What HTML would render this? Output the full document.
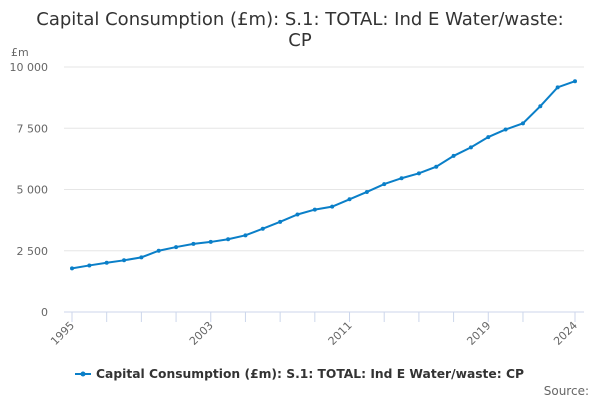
<!DOCTYPE html>
<html><head><meta charset="utf-8"><style>
body{margin:0;background:#fff;font-family:"Liberation Sans","DejaVu Sans",sans-serif;}
svg text{font-family:"DejaVu Sans","Liberation Sans",sans-serif;}
</style></head><body>
<svg id="chart" width="600" height="400">
<text x="300" y="25" text-anchor="middle" font-size="18" fill="#333">Capital Consumption (£m): S.1: TOTAL: Ind E Water/waste:</text>
<text x="300" y="46" text-anchor="middle" font-size="18" fill="#333">CP</text>
<text x="11" y="56" font-size="11" fill="#666">£m</text>
<g id="grid"></g><g id="xax"></g><g id="series"></g>
<g>
<line x1="75" y1="374" x2="91" y2="374" stroke="#0a7fc8" stroke-width="2"/>
<circle cx="83" cy="374" r="2.5" fill="#0a7fc8"/>
<text x="96" y="378" font-size="12.5" font-weight="bold" fill="#333" textLength="428" lengthAdjust="spacingAndGlyphs">Capital Consumption (£m): S.1: TOTAL: Ind E Water/waste: CP</text>
</g>
<text x="589" y="395" text-anchor="end" font-size="12" fill="#666">Source:</text>
</svg>
<script>
const years=[1995,1996,1997,1998,1999,2000,2001,2002,2003,2004,2005,2006,2007,2008,2009,2010,2011,2012,2013,2014,2015,2016,2017,2018,2019,2020,2021,2022,2023,2024];
const values=[1780,1900,2010,2110,2230,2500,2650,2780,2860,2970,3130,3400,3680,3980,4180,4300,4600,4900,5220,5460,5660,5930,6370,6720,7140,7450,7700,8400,9170,9420];
const yTicks=[0,2500,5000,7500,10000];
const yTickLabels=["0","2 500","5 000","7 500","10 000"];
const xLabels=[1995,2003,2011,2019,2024];
const NS="http://www.w3.org/2000/svg";
const X=y=>72+(y-1995)*(575-72)/29;
const Y=v=>312-v*(312-67)/10000;
function mk(t,a,p){const e=document.createElementNS(NS,t);for(const k in a)e.setAttribute(k,a[k]);p.appendChild(e);return e;}
const g=document.getElementById('grid'),xa=document.getElementById('xax'),s=document.getElementById('series');
yTicks.forEach((v,i)=>{
 const l=mk('line',{x1:64,x2:584,y1:Y(v),y2:Y(v),stroke:v===0?'#ccd6eb':'#e6e6e6','stroke-width':1},g);
 
 
 const t=mk('text',{x:48,y:Y(v)+4,'text-anchor':'end','font-size':11,fill:'#666'},g);
 t.textContent=yTickLabels[i];
 
 
});
years.forEach(y=>{
 if((y-1995)%2===0&&y<=2021||y===2024){
  const tk=mk('line',{x1:X(y),x2:X(y),y1:312,y2:322,stroke:'#ccd6eb'},xa);
  
  
 }
});
xLabels.forEach(y=>{
 const t=mk('text',{x:X(y)+3,y:326,'text-anchor':'end','font-size':11,fill:'#666',transform:`rotate(-45 ${X(y)+3} 326)`},xa);
 t.textContent=y;
 
 
});
const pl=mk('polyline',{points:years.map((y,i)=>X(y)+','+Y(values[i])).join(' '),fill:'none',stroke:'#0a7fc8','stroke-width':2},s);


years.forEach((y,i)=>{
 const c=mk('circle',{cx:X(y),cy:Y(values[i]),r:2,fill:'#0a7fc8'},s);
 
 
});
</script>
</body></html>
